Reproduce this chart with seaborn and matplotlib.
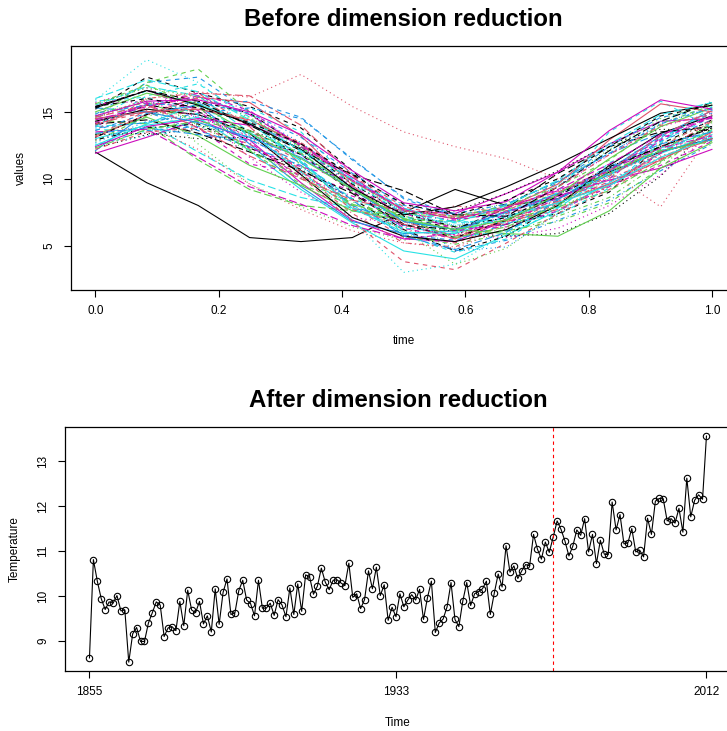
import numpy as np
import seaborn as sns
import matplotlib
matplotlib.use("Agg")
import matplotlib.pyplot as plt

# ---- data ----
# top panel: smoothed yearly curves, values at 13 knots over time 0..1
time_knots = np.linspace(0, 1, 13)

curve_1855 = [12.0, 9.7, 8.0, 5.6, 5.3, 5.6, 7.5, 9.2, 8.0, 8.5, 10.5, 12.0, 13.0]

early_curves = [
    [13.2, 15.1, 14.8, 13.6, 11.2, 7.9, 5.6, 5.2, 6.6, 8.1, 9.8, 11.5, 13.0],
    [14.6, 15.8, 12.6, 9.6, 7.9, 6.4, 5.4, 5.9, 6.8, 7.9, 9.4, 11.9, 14.2],
    [12.5, 13.6, 13.9, 13.1, 11.8, 9.4, 6.1, 4.6, 5.4, 6.9, 8.4, 10.6, 12.6],
    [13.9, 14.2, 12.0, 9.9, 8.6, 7.8, 7.1, 5.6, 6.1, 7.8, 10.4, 12.3, 13.5],
    [11.9, 13.1, 14.4, 12.9, 9.7, 6.9, 5.5, 5.3, 6.9, 8.7, 9.9, 10.8, 12.2],
    [15.2, 17.6, 16.4, 15.4, 13.8, 10.6, 7.2, 6.2, 6.6, 7.4, 9.0, 12.6, 14.4],
    [13.4, 13.9, 12.2, 9.6, 7.7, 6.1, 5.2, 4.8, 6.3, 8.2, 10.6, 11.7, 12.9],
    [12.8, 14.7, 15.2, 14.5, 12.4, 8.9, 5.7, 5.1, 5.9, 7.2, 8.6, 11.2, 13.6],
    [15.3, 15.0, 13.6, 12.4, 11.0, 8.0, 6.5, 6.9, 8.1, 9.8, 11.9, 13.4, 13.9],
    [13.0, 14.0, 14.6, 12.1, 9.2, 6.7, 4.6, 4.0, 5.8, 7.6, 9.7, 11.9, 13.3],
    [14.2, 15.6, 13.8, 11.1, 10.4, 9.1, 6.3, 5.5, 7.4, 8.8, 9.5, 11.0, 12.8],
    [12.3, 13.3, 13.7, 13.6, 12.3, 9.2, 6.8, 6.0, 5.7, 5.9, 7.4, 10.2, 14.1],
    [13.6, 16.0, 16.4, 13.9, 10.4, 7.4, 5.2, 4.9, 6.7, 8.3, 10.0, 11.6, 13.2],
    [14.4, 14.1, 11.4, 9.2, 8.0, 7.6, 7.2, 6.4, 6.9, 7.9, 9.1, 11.3, 13.7],
    [12.1, 14.9, 15.5, 12.6, 9.4, 6.8, 5.9, 6.1, 7.6, 8.5, 10.3, 12.1, 12.9],
    [13.7, 13.5, 14.3, 15.3, 13.5, 9.8, 5.8, 4.5, 5.5, 7.9, 11.2, 12.8, 14.6],
    [15.7, 16.8, 14.9, 11.6, 9.0, 7.1, 6.6, 5.8, 5.6, 6.3, 8.0, 10.3, 13.4],
    [12.9, 13.8, 14.1, 12.3, 10.7, 8.5, 6.2, 4.6, 5.7, 8.1, 10.8, 12.4, 13.8],
    [14.0, 15.3, 16.4, 16.2, 14.0, 10.3, 6.8, 5.7, 6.8, 7.7, 9.5, 12.0, 14.3],
    [13.3, 14.6, 13.2, 11.0, 9.5, 7.6, 6.9, 6.2, 5.9, 5.7, 7.6, 10.8, 12.7],
    [14.8, 17.2, 17.6, 15.0, 11.4, 8.0, 5.8, 5.4, 6.6, 8.0, 10.5, 13.1, 14.9],
    [12.6, 13.2, 14.0, 13.3, 10.8, 6.9, 3.0, 3.6, 5.9, 7.9, 10.2, 12.5, 13.1],
]

mid_curves = [
    [13.9, 15.7, 15.3, 12.7, 10.1, 8.7, 7.4, 6.3, 6.4, 7.6, 9.4, 11.9, 14.0],
    [14.1, 14.4, 13.4, 12.0, 10.6, 8.9, 6.5, 6.2, 7.8, 10.4, 12.4, 13.5, 13.9],
    [13.1, 14.8, 16.1, 15.7, 13.2, 9.5, 6.6, 5.5, 7.0, 8.2, 9.6, 11.4, 13.5],
    [14.6, 17.2, 18.2, 15.0, 11.0, 8.1, 7.0, 6.8, 7.7, 8.9, 10.4, 12.2, 14.0],
    [12.7, 14.3, 14.7, 13.0, 10.9, 8.4, 7.4, 4.6, 4.9, 7.4, 9.8, 12.0, 13.1],
    [14.5, 16.6, 15.6, 13.2, 11.9, 9.2, 6.9, 6.2, 7.1, 8.1, 10.0, 13.0, 15.0],
    [13.5, 13.7, 11.6, 9.4, 8.1, 6.5, 5.5, 5.9, 7.9, 9.1, 10.7, 12.3, 13.2],
    [14.3, 15.2, 14.8, 13.4, 10.3, 7.1, 5.7, 5.3, 6.2, 8.0, 11.0, 13.4, 14.7],
    [12.2, 13.5, 13.8, 12.6, 10.2, 6.8, 3.8, 3.2, 5.2, 7.4, 9.2, 11.5, 13.0],
    [14.7, 15.9, 14.0, 12.1, 10.2, 8.3, 6.1, 3.6, 4.8, 7.5, 10.1, 12.6, 14.2],
    [13.8, 14.2, 14.9, 15.3, 14.5, 11.5, 8.5, 7.1, 7.2, 8.4, 10.6, 12.8, 14.4],
    [15.5, 16.9, 16.2, 13.5, 10.5, 7.7, 6.3, 6.0, 7.5, 8.8, 10.3, 12.1, 13.6],
    [12.4, 13.9, 14.5, 14.0, 12.6, 10.1, 7.6, 7.4, 8.9, 10.5, 12.6, 14.3, 14.5],
    [14.1, 15.5, 15.0, 13.6, 11.8, 9.0, 6.6, 5.6, 6.9, 8.7, 10.8, 12.4, 13.8],
    [13.2, 14.8, 14.9, 13.1, 10.6, 7.9, 6.2, 5.6, 6.8, 8.5, 10.3, 12.0, 13.4],
    [14.9, 15.7, 14.3, 12.2, 10.0, 8.1, 6.9, 6.1, 6.1, 6.8, 8.2, 10.8, 14.3],
    [13.4, 13.8, 13.3, 12.9, 11.2, 8.4, 5.7, 4.7, 6.0, 8.4, 10.9, 12.6, 13.5],
    [12.5, 14.1, 15.6, 14.2, 11.3, 7.8, 6.0, 5.9, 7.2, 8.2, 9.5, 11.6, 13.1],
    [15.4, 16.6, 15.1, 12.3, 10.9, 9.9, 7.8, 6.1, 6.6, 8.6, 10.0, 12.9, 14.7],
    [13.3, 13.4, 13.0, 13.1, 11.9, 9.1, 7.4, 7.6, 8.9, 10.6, 12.6, 13.7, 13.6],
    [14.0, 15.5, 16.0, 13.9, 10.6, 7.7, 6.6, 8.0, 7.4, 8.3, 10.2, 12.4, 14.4],
    [12.3, 13.7, 14.3, 13.6, 11.9, 9.3, 7.0, 5.6, 6.4, 8.0, 10.6, 12.1, 12.8],
]

late_curves = [
    [14.5, 15.0, 14.2, 13.1, 11.6, 9.2, 6.8, 6.2, 7.5, 8.9, 10.7, 13.2, 15.1],
    [13.9, 16.2, 17.1, 14.6, 11.2, 8.5, 7.1, 6.7, 7.0, 9.0, 13.5, 15.8, 13.8],
    [15.6, 15.8, 14.6, 13.2, 11.8, 9.0, 6.4, 5.8, 7.2, 9.4, 11.8, 13.9, 14.9],
    [13.1, 14.8, 15.8, 14.9, 12.4, 9.6, 7.4, 6.4, 7.1, 8.8, 10.9, 12.4, 13.9],
    [14.6, 15.5, 13.8, 11.7, 10.0, 8.4, 7.6, 7.2, 7.9, 9.0, 10.6, 13.2, 15.1],
    [15.0, 16.4, 15.6, 13.4, 11.5, 9.2, 7.0, 6.2, 6.9, 8.8, 11.5, 13.9, 15.3],
    [13.6, 14.9, 15.5, 15.8, 14.6, 11.4, 8.6, 7.3, 7.8, 9.7, 12.4, 14.6, 15.2],
    [15.9, 18.9, 17.2, 14.4, 12.3, 9.8, 7.5, 6.5, 7.4, 9.6, 12.1, 14.3, 15.8],
    [14.2, 15.6, 16.4, 15.1, 12.4, 9.4, 7.4, 6.9, 7.5, 8.8, 10.6, 13.0, 14.6],
    [15.4, 16.6, 15.8, 14.0, 12.1, 10.3, 9.1, 7.3, 7.2, 9.4, 12.1, 14.3, 15.7],
    [14.5, 15.0, 15.2, 14.4, 12.6, 9.8, 7.7, 7.0, 7.8, 9.6, 12.9, 15.6, 15.0],
    [15.6, 17.0, 15.4, 12.1, 9.6, 8.0, 7.4, 7.1, 8.0, 9.4, 11.4, 14.1, 15.5],
    [14.0, 15.6, 16.1, 14.8, 12.7, 9.9, 7.5, 6.5, 7.3, 9.5, 11.9, 14.2, 15.3],
    [15.8, 16.1, 14.8, 13.4, 12.0, 9.7, 7.4, 6.8, 6.7, 7.3, 9.3, 12.7, 15.4],
    [14.4, 15.4, 16.2, 14.8, 12.5, 9.9, 7.7, 7.0, 7.8, 9.2, 11.1, 13.3, 14.6],
    [15.3, 16.6, 15.5, 14.1, 12.2, 9.3, 7.3, 7.9, 9.4, 11.1, 13.0, 14.9, 15.5],
    [14.1, 15.0, 15.3, 14.3, 12.7, 10.2, 7.9, 7.1, 7.6, 9.4, 11.8, 14.0, 14.8],
    [15.6, 16.8, 16.1, 14.6, 12.4, 9.8, 7.6, 7.2, 8.2, 9.7, 12.2, 14.5, 15.6],
    [14.9, 15.5, 15.7, 14.9, 13.1, 10.4, 8.0, 7.4, 8.1, 9.8, 11.9, 14.1, 15.3],
    [16.0, 17.4, 16.5, 14.4, 12.1, 10.0, 7.8, 6.7, 8.0, 9.9, 12.6, 14.8, 15.7],
    [14.7, 15.8, 15.9, 15.0, 13.3, 10.6, 8.2, 7.6, 8.3, 10.5, 13.6, 15.9, 15.2],
    [15.4, 16.0, 15.3, 14.2, 12.6, 10.3, 8.1, 7.3, 8.4, 10.0, 12.4, 14.7, 15.5],
]

curve_2012 = [14.5, 16.0, 16.5, 16.1, 17.8, 15.4, 13.5, 12.4, 11.5, 10.0, 10.5, 7.9, 13.5]

# bottom panel: yearly mean temperature
first_year, last_year = 1855, 2012
annual_temp = [
    8.62, 10.81, 10.33, 9.94, 9.70, 9.87, 9.84, 10.01, 9.67, 9.69,
    8.53, 9.16, 9.30, 8.99, 8.99, 9.40, 9.63, 9.87, 9.80, 9.10,
    9.29, 9.32, 9.23, 9.88, 9.34, 10.13, 9.69, 9.63, 9.88, 9.38,
    9.56, 9.20, 10.16, 9.37, 10.08, 10.38, 9.59, 9.62, 10.12, 10.35,
    9.91, 9.83, 9.56, 10.35, 9.73, 9.73, 9.84, 9.57, 9.92, 9.80,
    9.54, 10.18, 9.59, 10.27, 9.66, 10.47, 10.43, 10.04, 10.22, 10.62,
    10.31, 10.14, 10.35, 10.36, 10.29, 10.23, 10.73, 9.97, 10.05, 9.72,
    9.92, 10.56, 10.16, 10.64, 10.01, 10.25, 9.46, 9.75, 9.54, 10.05,
    9.76, 9.91, 10.03, 9.91, 10.15, 9.48, 9.96, 10.33, 9.19, 9.40,
    9.49, 9.76, 10.30, 9.48, 9.32, 9.89, 10.30, 9.79, 10.05, 10.10,
    10.16, 10.33, 9.59, 10.06, 10.49, 10.20, 11.12, 10.53, 10.67, 10.39,
    10.56, 10.70, 10.67, 11.37, 11.04, 10.82, 11.20, 10.97, 11.31, 11.67,
    11.48, 11.22, 10.89, 11.11, 11.47, 11.35, 11.72, 10.98, 11.37, 10.72,
    11.24, 10.93, 10.92, 12.09, 11.47, 11.81, 11.16, 11.18, 11.50, 10.98,
    11.02, 10.87, 11.73, 11.37, 12.11, 12.17, 12.16, 11.67, 11.72, 11.62,
    11.95, 11.42, 12.62, 11.76, 12.13, 12.25, 12.15, 13.56,
]
change_year = 1973
year_ticks = [1855, 1933, 2012]

# ---- style: R base graphics look ----
sns.set_theme(style="white")
plt.rcParams['font.family'] = ['Liberation Sans', 'DejaVu Sans']
plt.rcParams['axes.edgecolor'] = 'black'
plt.rcParams['axes.linewidth'] = 0.9
for key in ['text.color', 'axes.labelcolor', 'xtick.color', 'ytick.color']:
    plt.rcParams[key] = 'black'

r_cols = ['black', '#DF536B', '#61D04F', '#2297E6', '#28E2E5', '#CD0BBC']
r_ltys = ['-', (0, (4, 4)), (0, (1, 3)), (0, (1, 3, 4, 3)), (0, (7, 3))]

fig = plt.figure(figsize=(7.27, 7.31), dpi=100)
ax1 = fig.add_axes([0.0973, 0.6033, 0.9161, 0.3342])
ax2 = fig.add_axes([0.0891, 0.0818, 0.9166, 0.3343])

# top: all curves, matplot style colour / line-type cycling
all_curves = [curve_1855] + early_curves + mid_curves + late_curves + [curve_2012]
for i, vals in enumerate(all_curves):
    sns.lineplot(x=time_knots, y=vals, color=r_cols[i % 6],
                 linestyle=r_ltys[i % 5], linewidth=0.8, ax=ax1)

ax1.set_xlim(-0.04, 1.04)
ax1.set_ylim(1.68, 19.95)
ax1.set_xticks([0, 0.2, 0.4, 0.6, 0.8, 1.0])
ax1.set_xticklabels(['0.0', '0.2', '0.4', '0.6', '0.8', '1.0'])
ax1.set_yticks([5, 10, 15])
ax1.set_xlabel('time', fontsize=8.5, labelpad=13)
ax1.set_ylabel('values', fontsize=8.5, labelpad=12)
ax1.set_title('Before dimension reduction', fontsize=17.3, fontweight='bold', pad=14)

# bottom: yearly series with open circles
years = np.arange(first_year, last_year + 1)
sns.lineplot(x=years, y=annual_temp, color='black', linewidth=0.8,
             marker='o', markersize=4.6, markerfacecolor='none',
             markeredgecolor='black', markeredgewidth=0.8, ax=ax2)
ax2.axvline(change_year, color='red', linestyle=(0, (3, 3)), linewidth=0.8)
ax2.margins(x=0.04, y=0.04)
ax2.set_xticks(year_ticks)
ax2.set_yticks([9, 10, 11, 12, 13])
ax2.set_xlabel('Time', fontsize=8.5, labelpad=13)
ax2.set_ylabel('Temperature', fontsize=8.5, labelpad=12)
ax2.set_title('After dimension reduction', fontsize=17.3, fontweight='bold', pad=14)

for ax in (ax1, ax2):
    ax.tick_params(axis='both', which='major', length=5, width=0.8, color='black',
                   labelsize=8.5, pad=6, bottom=True, left=True)
    for lab in ax.get_yticklabels():
        lab.set_rotation(90)
        lab.set_va('center')
    for s in ax.spines.values():
        s.set_visible(True)

fig.savefig('out.png', dpi=100)
